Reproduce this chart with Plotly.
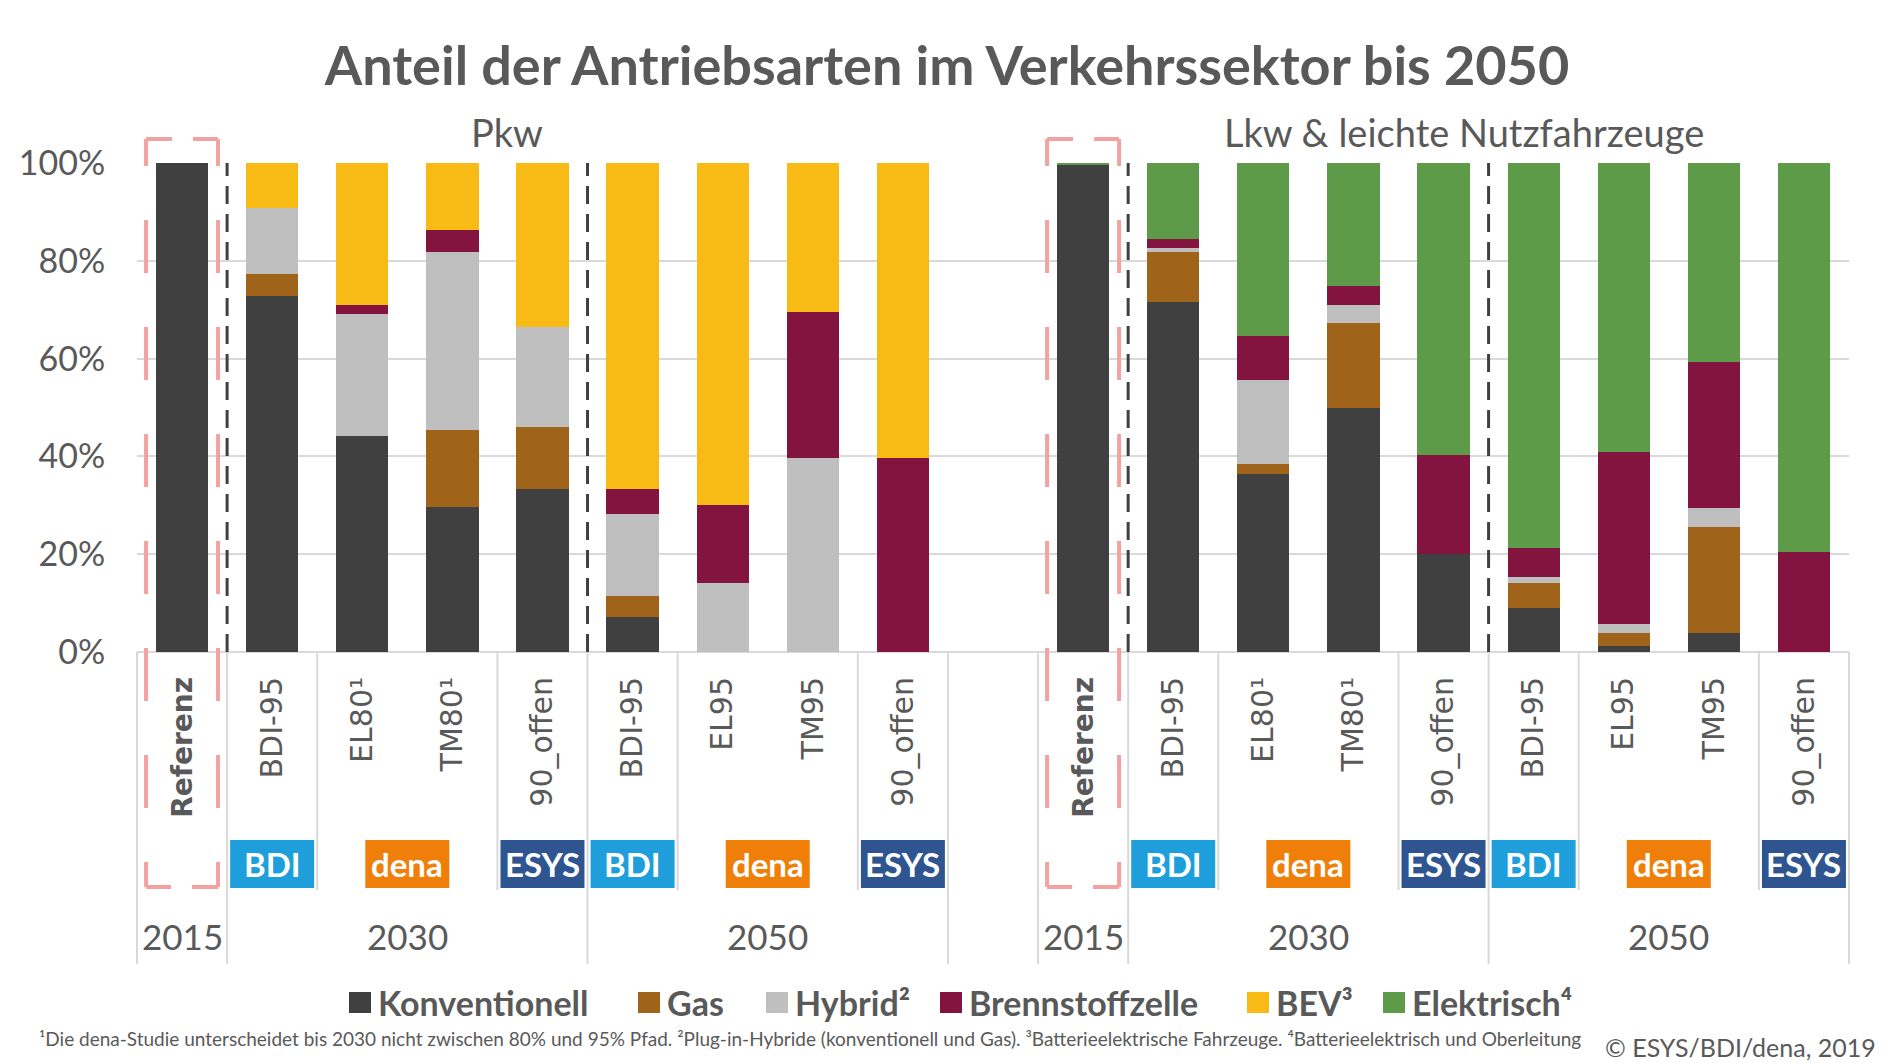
import plotly.graph_objects as go

# Kategorien je Fahrzeuggruppe
groups = ["Pkw", "Lkw & leichte Nutzfahrzeuge"]
scenarios = ["Referenz", "BDI-95", "EL80¹", "TM80¹", "90_offen", "BDI-95", "EL95", "TM95", "90_offen"]
scenario_year = ["2015", "2030", "2030", "2030", "2030", "2050", "2050", "2050", "2050"]
studies = ["", "BDI", "dena", "dena", "ESYS", "BDI", "dena", "dena", "ESYS"]

series = ["Konventionell", "Gas", "Hybrid²", "Brennstoffzelle", "BEV³", "Elektrisch⁴"]
colors = ["#404040", "#A0631A", "#BFBFBF", "#83133F", "#F8BB15", "#5E9B48"]
study_colors = {"BDI": "#1E9FDB", "dena": "#F07F0A", "ESYS": "#2F5591"}

y_ticks = [0, 20, 40, 60, 80, 100]

# Anteile in % (Pkw)
pkw_konv = [100, 72.8, 44.2, 29.6, 33.4, 7.1, 0, 0, 0]
pkw_gas = [0, 4.6, 0, 15.8, 12.7, 4.4, 0, 0, 0]
pkw_hybrid = [0, 13.5, 24.9, 36.4, 20.4, 16.7, 14.2, 39.7, 0]
pkw_bz = [0, 0, 1.9, 4.6, 0, 5.1, 15.9, 29.9, 39.7]
pkw_bev = [0, 9.1, 29.0, 13.6, 33.5, 66.7, 69.9, 30.4, 60.3]
pkw_el = [0, 0, 0, 0, 0, 0, 0, 0, 0]

# Anteile in % (Lkw & leichte Nutzfahrzeuge)
lkw_konv = [99.5, 71.5, 36.4, 50.0, 20.0, 9.1, 1.3, 3.9, 0]
lkw_gas = [0, 10.3, 2.0, 17.2, 0, 5.0, 2.6, 21.6, 0]
lkw_hybrid = [0, 0.8, 17.3, 3.8, 0, 1.3, 1.9, 4.0, 0]
lkw_bz = [0, 1.9, 8.9, 3.8, 20.3, 5.8, 35.0, 29.9, 20.4]
lkw_bev = [0, 0, 0, 0, 0, 0, 0, 0, 0]
lkw_el = [0.5, 15.5, 35.4, 25.2, 59.7, 78.8, 59.2, 40.6, 79.6]

pkw = [pkw_konv, pkw_gas, pkw_hybrid, pkw_bz, pkw_bev, pkw_el]
lkw = [lkw_konv, lkw_gas, lkw_hybrid, lkw_bz, lkw_bev, lkw_el]

footnote = ("¹Die dena-Studie unterscheidet bis 2030 nicht zwischen 80% und 95% Pfad. "
            "²Plug-in-Hybride (konventionell und Gas). ³Batterieelektrische Fahrzeuge. "
            "⁴Batterieelektrisch und Oberleitung")

# Seitengeometrie (px)
W, H = 1890, 1063
L, R, T, B = 137, 41, 163, 411
PW, PH = W - L - R, H - T - B
GREY = "#595959"
CAL = "Lato"

n = len(scenarios)
n_slots = 2 * n + 1
offsets = [0, n + 1]


def px(xpix):
    return (xpix - L) / PW


def py(ypix):
    return (H - B - ypix) / PH


def sx(v):
    # Kategorieposition -> Papierkoordinate
    return (v + 0.5) / n_slots


x_all = [off + i for off in offsets for i in range(n)]

fig = go.Figure()
for k, name in enumerate(series):
    fig.add_trace(go.Bar(
        x=x_all,
        y=pkw[k] + lkw[k],
        name=name,
        marker=dict(color=colors[k], line=dict(width=0)),
        showlegend=False,
        hovertemplate=name + ": %{y:.1f}%<extra></extra>",
    ))

shapes = []
annotations = []

for g, off in enumerate(offsets):
    # Referenz-Rahmen (rot gestrichelt)
    cx = sx(off)
    xl, xr = cx - 36 / PW, cx + 36 / PW
    yt, yb = py(139), py(887)
    pink = dict(color="#F4A1A1", width=4)
    for (x0, x1, y0, y1, dash) in [
        (xl, xr, yt, yt, "26px,21px,26px,100px"),
        (xr, xl, yb, yb, "26px,21px,26px,100px"),
        (xl, xl, yt, yb, "27px,54px" + ",53px,54px" * 6 + ",30px,100px"),
        (xr, xr, yt, yb, "27px,54px" + ",53px,54px" * 6 + ",30px,100px"),
    ]:
        shapes.append(dict(type="line", xref="paper", yref="paper", x0=x0, x1=x1, y0=y0, y1=y1,
                           line=dict(pink, dash=dash), layer="above"))

    # Trennlinien im Beschriftungsbereich
    full = [off - 0.5, off + n - 0.5]
    short = []
    for i in range(1, n):
        if scenario_year[i] != scenario_year[i - 1]:
            full.append(off + i - 0.5)
            # schwarze gestrichelte Linie im Diagramm
            shapes.append(dict(type="line", xref="paper", yref="paper", x0=sx(off + i - 0.5),
                               x1=sx(off + i - 0.5), y0=0, y1=1,
                               line=dict(color="#404040", width=3, dash="18px,10px")))
        elif studies[i] != studies[i - 1]:
            short.append(off + i - 0.5)
    for v in full:
        shapes.append(dict(type="line", xref="paper", yref="paper", x0=sx(v), x1=sx(v),
                           y0=0, y1=py(964), line=dict(color="#D9D9D9", width=2)))
    for v in short:
        shapes.append(dict(type="line", xref="paper", yref="paper", x0=sx(v), x1=sx(v),
                           y0=0, y1=py(890), line=dict(color="#D9D9D9", width=2)))

    # Studien-Kennzeichnung
    i = 1
    while i < n:
        j = i
        while j + 1 < n and studies[j + 1] == studies[i] and scenario_year[j + 1] == scenario_year[i]:
            j += 1
        c = sx(off + (i + j) / 2)
        shapes.append(dict(type="rect", xref="paper", yref="paper", x0=c - 42 / PW, x1=c + 42 / PW,
                           y0=py(888), y1=py(840), fillcolor=study_colors[studies[i]], line=dict(width=0)))
        annotations.append(dict(x=c, y=py(864), xref="paper", yref="paper", text="<b>%s</b>" % studies[i],
                                showarrow=False, font=dict(family=CAL, size=33, color="white"),
                                xanchor="center", yanchor="middle"))
        i = j + 1

    # Jahreszahlen
    for y in sorted(set(scenario_year)):
        idx = [i for i in range(n) if scenario_year[i] == y]
        c = sx(off + (idx[0] + idx[-1]) / 2)
        annotations.append(dict(x=c, y=py(936), xref="paper", yref="paper", text=y, showarrow=False,
                                font=dict(family=CAL, size=35, color=GREY), xanchor="center", yanchor="middle"))

# Gruppenüberschriften
for name, xc in zip(groups, [507, 1464]):
    annotations.append(dict(x=px(xc), y=py(132), xref="paper", yref="paper", text=name, showarrow=False,
                            font=dict(family=CAL, size=38, color=GREY), xanchor="center", yanchor="middle"))

# Legende
legend_x = [349, 638, 766, 940, 1247, 1383]
for name, col, lx in zip(series, colors, legend_x):
    shapes.append(dict(type="rect", xref="paper", yref="paper", x0=px(lx), x1=px(lx + 22),
                       y0=py(1013), y1=py(992), fillcolor=col, line=dict(width=0)))
    annotations.append(dict(x=px(lx + 27), y=py(1002), xref="paper", yref="paper", text="<b>%s</b>" % name,
                            showarrow=False, font=dict(family=CAL, size=34, color=GREY),
                            xanchor="left", yanchor="middle"))

annotations.append(dict(x=px(37), y=py(1038), xref="paper", yref="paper", text=footnote, showarrow=False,
                        font=dict(family=CAL, size=19, color=GREY), xanchor="left", yanchor="middle"))
annotations.append(dict(x=px(1878), y=py(1047), xref="paper", yref="paper", text="© ESYS/BDI/dena, 2019",
                        showarrow=False, font=dict(family=CAL, size=25, color=GREY),
                        xanchor="right", yanchor="middle"))

tick_text = ['<b><span style="font-size:28px">%s</span></b>' % s if s == "Referenz" else s
             for s in scenarios] * 2

fig.update_layout(
    width=W, height=H,
    template="none",
    paper_bgcolor="white", plot_bgcolor="white",
    margin=dict(l=L, r=R, t=T, b=B, autoexpand=False),
    barmode="stack",
    bargap=0.42,
    showlegend=False,
    title=dict(text="<b>Anteil der Antriebsarten im Verkehrssektor bis 2050</b>",
               xref="paper", x=px(947), xanchor="center",
               yref="container", y=1 - 66 / H, yanchor="middle",
               font=dict(family=CAL, size=54, color=GREY)),
    xaxis=dict(
        range=[-0.5, n_slots - 0.5],
        tickmode="array", tickvals=x_all, ticktext=tick_text,
        tickangle=-90, ticks="outside", ticklen=12, tickcolor="rgba(0,0,0,0)",
        tickfont=dict(family="DejaVu Sans", size=30, color=GREY),
        showgrid=False, zeroline=False, showline=False, automargin=False,
    ),
    yaxis=dict(
        range=[0, 100], tickmode="array", tickvals=y_ticks,
        ticktext=["%d%%" % v for v in y_ticks],
        ticks="outside", ticklen=24, tickcolor="rgba(0,0,0,0)",
        tickfont=dict(family=CAL, size=34, color=GREY),
        showgrid=True, gridcolor="#D9D9D9", gridwidth=2,
        zeroline=True, zerolinecolor="#D9D9D9", zerolinewidth=2,
        showline=False, automargin=False,
    ),
    shapes=shapes,
    annotations=annotations,
)

fig.write_html("out.html", config={"displayModeBar": False},
               post_script="document.body.style.margin = '0';")
